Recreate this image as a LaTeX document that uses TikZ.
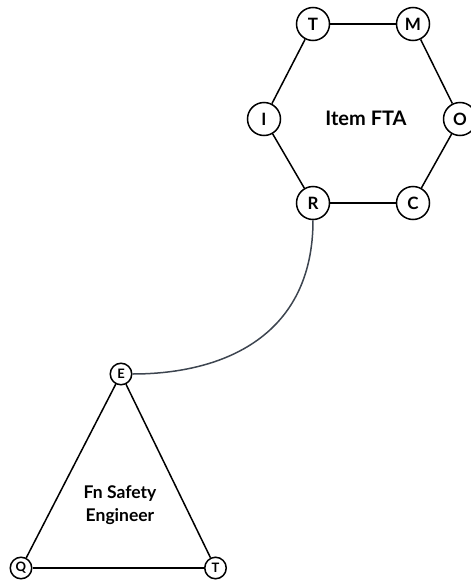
\documentclass[tikz,border=0pt]{standalone}
\usepackage{fontspec}
\setmainfont{Lato}
\begin{document}
\begin{tikzpicture}[x=1pt,y=-1pt,
  big/.style={circle,draw,line width=1.5pt,minimum size=33pt,inner sep=0pt,
    font=\bfseries\fontsize{17}{17}\selectfont},
  small/.style={circle,draw,line width=1.5pt,minimum size=21.5pt,inner sep=0pt,
    font=\bfseries\fontsize{13}{13}\selectfont},
  edge/.style={line width=1.5pt},
  link/.style={line width=1.5pt,draw={rgb,255:red,61;green,69;blue,80}},
  title/.style={font=\bfseries\fontsize{20}{22}\selectfont,align=center}]
\useasboundingbox (0,0) rectangle (471,581);
% hexagon group
\node[big] (t1) at (313,24) {T};
\node[big] (m)  at (413,24) {M};
\node[big] (i)  at (264,119) {I};
\node[big] (o)  at (460,119) {O};
\node[big] (r)  at (313,203) {R};
\node[big] (c)  at (413,203) {C};
\node[title] (fta) at (366,118) {Item FTA};
\draw[edge] (t1) -- (m);
\draw[edge] (m) -- (o);
\draw[edge] (o) -- (c);
\draw[edge] (c) -- (r);
\draw[edge] (r) -- (i);
\draw[edge] (i) -- (t1);
% triangle group
\node[small] (e) at (121,374) {E};
\node[small] (q) at (21,568) {Q};
\node[small] (t2) at (215.5,568) {T};
\node[title,font=\bfseries\fontsize{17.5}{22.5}\selectfont] (fse) at (120,505) {Fn Safety\\Engineer};
\draw[edge] (e) -- (q);
\draw[edge] (q) -- (t2);
\draw[edge] (t2) -- (e);
% link between the groups
\draw[link] (r.south) .. controls +(0,115) and +(92,0) .. (e.east);
\end{tikzpicture}
\end{document}
